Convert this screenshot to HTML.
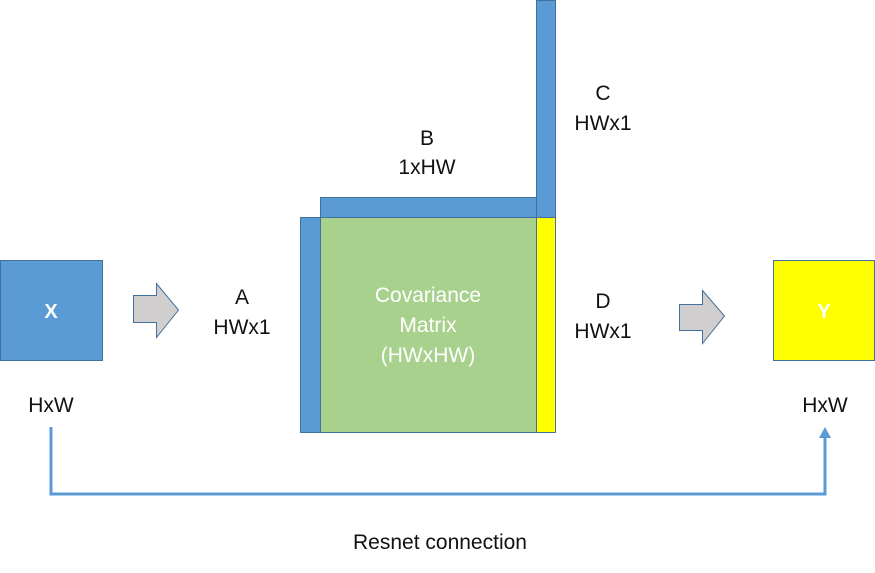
<!DOCTYPE html>
<html><head><meta charset="utf-8"><style>body{margin:0;background:#fff}svg{display:block}</style></head><body>
<svg width="875" height="573" viewBox="0 0 875 573" xmlns="http://www.w3.org/2000/svg" font-family="Liberation Sans, sans-serif">
<rect x="0.5" y="260.5" width="102" height="100" fill="#5b9bd5" stroke="#41719c"/>
<text x="51" y="318" font-size="20" font-weight="bold" fill="#fff" text-anchor="middle">X</text>
<rect x="773.5" y="260.5" width="101" height="100" fill="#ffff00" stroke="#41719c"/>
<text x="824" y="318" font-size="20" font-weight="bold" fill="#fff" text-anchor="middle">Y</text>
<polygon points="133.5,295.5 156.5,295.5 156.5,283.5 178.5,310 156.5,337.5 156.5,322.5 133.5,322.5" fill="#d0cece" stroke="#41719c"/>
<polygon points="679.5,304.5 702.5,304.5 702.5,290.5 724.5,316 702.5,343.5 702.5,330.5 679.5,330.5" fill="#d0cece" stroke="#41719c"/>
<rect x="300.5" y="217.5" width="20" height="215" fill="#5b9bd5" stroke="#41719c"/>
<rect x="320.5" y="197.5" width="216" height="20" fill="#5b9bd5" stroke="#41719c"/>
<rect x="320.5" y="217.5" width="216" height="215" fill="#a9d18e" stroke="#41719c"/>
<rect x="536.5" y="217.5" width="19" height="215" fill="#ffff00" stroke="#41719c"/>
<rect x="536.5" y="0.5" width="19" height="217" fill="#5b9bd5" stroke="#41719c"/>
<g font-size="21" fill="#fff" text-anchor="middle">
<text x="428" y="302">Covariance</text><text x="428" y="332">Matrix</text><text x="428" y="362">(HWxHW)</text></g>
<g font-size="21" fill="#111" text-anchor="middle">
<text x="427" y="145">B</text><text x="427" y="174">1xHW</text>
<text x="603" y="100">C</text><text x="603" y="130">HWx1</text>
<text x="242" y="304">A</text><text x="242" y="334">HWx1</text>
<text x="603" y="308">D</text><text x="603" y="338">HWx1</text>
<text x="51" y="412">HxW</text><text x="825" y="412">HxW</text>
<text x="440" y="549">Resnet connection</text></g>
<polyline points="51,427 51,494 825,494 825,438" fill="none" stroke="#5b9bd5" stroke-width="3"/>
<polygon points="819,438 831,438 825,427" fill="#5b9bd5"/>
</svg>
</body></html>
